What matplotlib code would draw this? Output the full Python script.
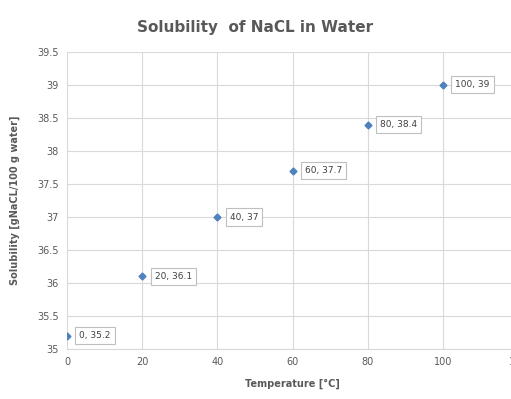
import matplotlib.pyplot as plt

temperature = [0, 20, 40, 60, 80, 100]
solubility = [35.2, 36.1, 37.0, 37.7, 38.4, 39.0]
point_labels = ["0, 35.2", "20, 36.1", "40, 37", "60, 37.7", "80, 38.4", "100, 39"]

fig = plt.figure(figsize=(5.11, 3.99), dpi=100)
# axes run past the right edge, like the cropped original
ax = fig.add_axes([0.131, 0.125, 0.883, 0.745])

ax.plot(temperature, solubility, linestyle="none", marker="D", markersize=3.5,
        color="#4f81bd", zorder=3)
for x, y, s in zip(temperature, solubility, point_labels):
    ax.annotate(s, (x, y), xytext=(9, 0), textcoords="offset points",
                va="center", ha="left", fontsize=6.5, color="#404040",
                bbox=dict(boxstyle="square,pad=0.45", fc="white", ec="#bfbfbf", lw=0.8))

ax.set_xlim(0, 120)
ax.set_ylim(35, 39.5)
ax.set_xticks(range(0, 121, 20))
ax.set_yticks([35 + 0.5 * i for i in range(10)])
ax.set_yticklabels(["35", "35.5", "36", "36.5", "37", "37.5", "38", "38.5", "39", "39.5"])
ax.grid(True, color="#d9d9d9", lw=0.8)
ax.set_axisbelow(True)
for side in ["top", "right", "left"]:
    ax.spines[side].set_visible(False)
ax.spines["bottom"].set_color("#d9d9d9")
ax.tick_params(length=0, labelsize=7, colors="#595959", pad=6)

ax.set_xlabel("Temperature [°C]", fontsize=7, color="#595959", fontweight="bold", labelpad=8)
ax.set_ylabel("Solubility [gNaCL/100 g water]", fontsize=7, color="#595959", fontweight="bold", labelpad=12)
fig.text(0.5, 0.93, "Solubility  of NaCL in Water", ha="center", va="center",
         fontsize=11, fontweight="bold", color="#595959")

fig.savefig("out.png", dpi=100)
